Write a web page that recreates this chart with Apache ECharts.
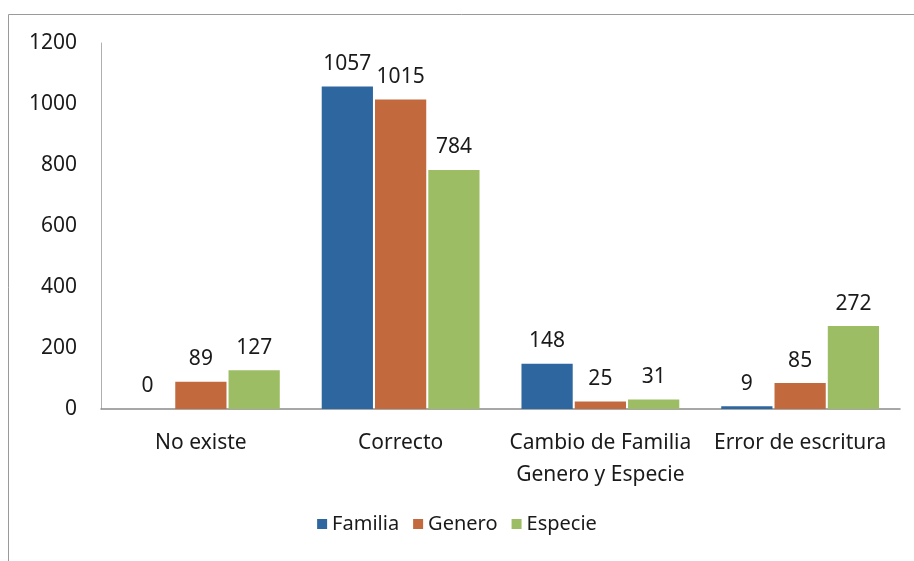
<!DOCTYPE html>
<html><head><meta charset="utf-8">
<script src="https://cdn.jsdelivr.net/npm/echarts@6/dist/echarts.min.js"></script>
<style>html,body{margin:0;padding:0;background:#fff}#c{width:914px;height:561px}</style>
</head><body><div id="c"></div>
<script>
const categories = ['No existe', 'Correcto', 'Cambio de Familia\nGenero y Especie', 'Error de escritura'];
const familia = [0, 1057, 148, 9];
const genero = [89, 1015, 25, 85];
const especie = [127, 784, 31, 272];
const yTicks = { min: 0, max: 1200, interval: 200 };

const font = 'Noto Sans';
const fs = 21;
const chart = echarts.init(document.getElementById('c'));
const lbl = { show: true, position: 'top', color: '#1a1a1a', fontSize: fs, fontFamily: font, distance: 12 };
chart.setOption({
  animation: false,
  textStyle: { fontFamily: font },
  graphic: {
    elements: [
      { type: 'polyline', z: 100, silent: true,
        shape: { points: [[8.5, 561], [8.5, 14.5], [914, 14.5]] },
        style: { stroke: '#9a9a9a', lineWidth: 1, fill: null } }
    ]
  },
  grid: { left: 101, right: 14, top: 43, bottom: 152 },
  legend: {
    bottom: 22, left: 'center', itemWidth: 10, itemHeight: 10, itemGap: 14, icon: 'rect',
    textStyle: { fontSize: 20, color: '#1a1a1a', fontFamily: font }
  },
  xAxis: {
    type: 'category', data: categories,
    axisLine: { lineStyle: { color: '#8a8a8a', width: 1.5 } },
    axisTick: { show: false },
    axisLabel: { color: '#1a1a1a', fontSize: fs, fontFamily: font, margin: 18, lineHeight: 32, interval: 0 }
  },
  yAxis: {
    type: 'value', min: yTicks.min, max: yTicks.max, interval: yTicks.interval,
    axisLine: { show: true, lineStyle: { color: '#b0b0b0' } },
    axisTick: { show: false },
    splitLine: { show: false },
    axisLabel: { color: '#1a1a1a', fontSize: fs, fontFamily: font, margin: 24, formatter: v => String(v) }
  },
  series: [
    { name: 'Familia', type: 'bar', data: familia, itemStyle: { color: '#2e67a0' }, label: lbl, barGap: '4%', barCategoryGap: '21%' },
    { name: 'Genero', type: 'bar', data: genero, itemStyle: { color: '#c26a3d' }, label: lbl },
    { name: 'Especie', type: 'bar', data: especie, itemStyle: { color: '#9cbd63' }, label: lbl }
  ]
});
</script></body></html>
